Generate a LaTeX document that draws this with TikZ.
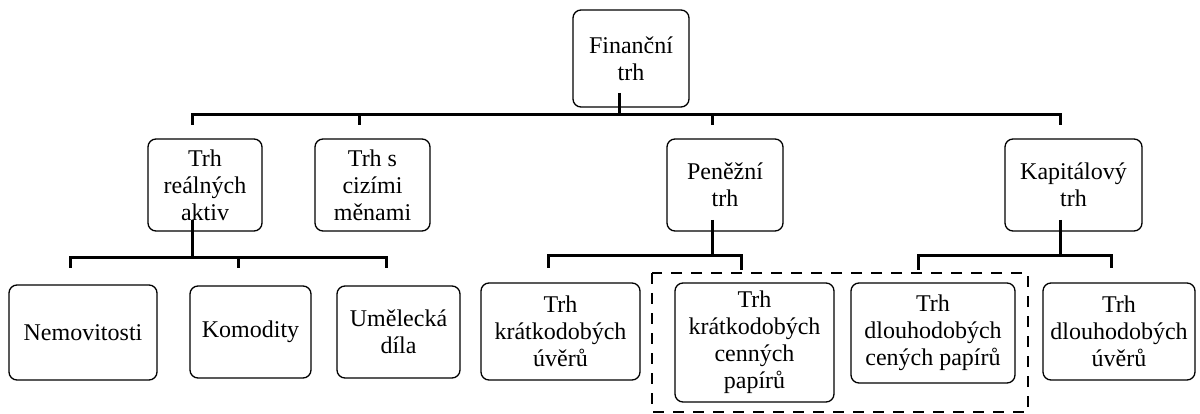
\documentclass[tikz,border=0pt]{standalone}
\usepackage{fontspec}
\setmainfont{Liberation Serif}
\usetikzlibrary{positioning}

\begin{document}
\begin{tikzpicture}[x=1pt, y=-1pt,
      every node/.style={font=\fontsize{24}{27}\selectfont, align=center, inner sep=2pt},
      box/.style={draw, line width=1.3pt, rounded corners=8pt},
      link/.style={line width=3pt},
      group/.style={dashed, line width=2.6pt, dash pattern=on 11pt off 9pt},
  ]
    \useasboundingbox (0,0) rectangle (1200,414);

    % top
    \node[box, minimum width=116pt, minimum height=97pt] (fin) at (631,58.5) {Finanční\\trh};

    % second row
    \node[box, minimum width=114pt, minimum height=92pt] (real) at (205,185) {Trh\\reálných\\aktiv};
    \node[box, minimum width=115pt, minimum height=92pt] (ciz)  at (372.5,185) {Trh s\\cizími\\měnami};
    \node[box, minimum width=116pt, minimum height=92pt] (pen)  at (725,185) {Peněžní\\trh};
    \node[box, minimum width=137pt, minimum height=92pt] (kap)  at (1073.5,185) {Kapitálový\\trh};

    % third row
    \node[box, minimum width=148pt, minimum height=95pt] (nem) at (83,332.5) {Nemovitosti};
    \node[box, minimum width=121pt, minimum height=92pt] (kom) at (250.5,332) {Komodity};
    \node[box, minimum width=123pt, minimum height=92pt] (ume) at (398.5,332) {Umělecká\\díla};
    \node[box, minimum width=159pt, minimum height=97pt] (kuv) at (560.5,331.5) {Trh\\krátkodobých\\úvěrů};
    \node[box, minimum width=159pt, minimum height=119pt] (kcp) at (754.5,342.5) {Trh\\krátkodobých\\cenných\\papírů};
    \node[box, minimum width=164pt, minimum height=100pt] (dcp) at (933,333) {Trh\\dlouhodobých\\cených papírů};
    \node[box, minimum width=152pt, minimum height=97pt] (duv) at (1119,331.5) {Trh\\dlouhodobých\\úvěrů};

    % connectors
    \coordinate (finstem) at (619,93);
    \coordinate (busA) at (619,115);
    \draw[link] (finstem) -- (busA);
    \draw[link] (192,125) -- (192,115) -- (1060,115) -- (1060,125);
    \draw[link] (359,115) -- (359,125);
    \draw[link] (712,115) -- (712,125);

    \coordinate (realstem) at (192,220);
    \coordinate (busB) at (192,258);
    \draw[link] (realstem) -- (busB);
    \draw[link] (70,268) -- (70,258) -- (386,258) -- (386,268);
    \draw[link] (238,258) -- (238,268);

    \coordinate (penstem) at (712,220);
    \coordinate (busC) at (712,256);
    \draw[link] (penstem) -- (busC);
    \draw[link] (548,268) -- (548,256) -- (741,256) -- (741,270);

    \coordinate (kapstem) at (1060,220);
    \coordinate (busD) at (1060,256);
    \draw[link] (kapstem) -- (busD);
    \draw[link] (918,270) -- (918,256) -- (1111,256) -- (1111,268);

    % grouping of securities markets
    \draw[group] (652,273) rectangle (1028,412);
\end{tikzpicture}
\end{document}
